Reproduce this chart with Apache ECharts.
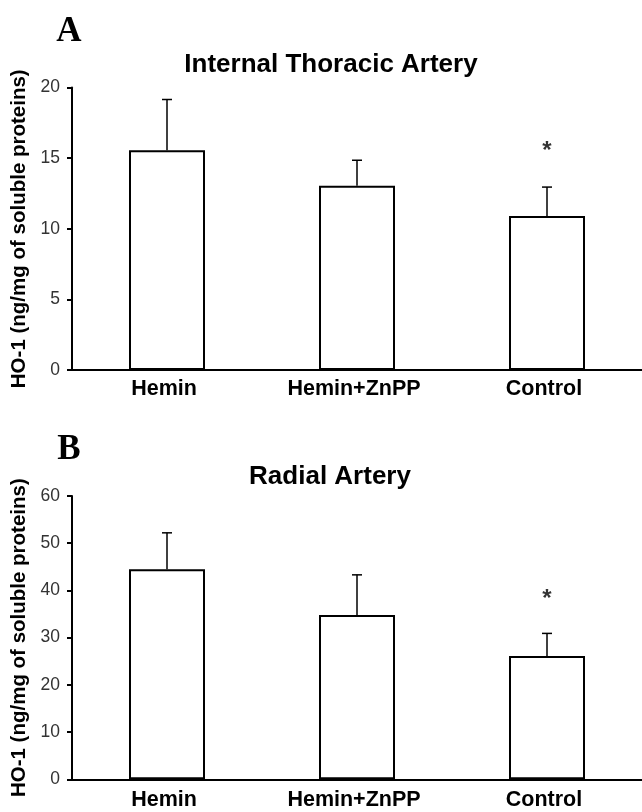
<!DOCTYPE html>
<html>
<head>
<meta charset="utf-8">
<script src="https://cdn.jsdelivr.net/npm/echarts@6/dist/echarts.min.js"></script>
<style>
html,body{margin:0;padding:0;background:#fff;}
#chart{width:642px;height:812px;}
</style>
</head>
<body>
<div id="chart"></div>
<script>
// ---- data ----
var categories = ['Hemin', 'Hemin+ZnPP', 'Control'];
var meansA = [15.55, 13.05, 10.9];
var sdA = [3.6, 1.8, 2.05];
var starA = [null, null, 15.8];
var meansB = [44.5, 34.8, 26.1];
var sdB = [7.7, 8.5, 4.8];
var starB = [null, null, 39.2];
var titleA = 'Internal Thoracic Artery';
var titleB = 'Radial Artery';
var yName = 'HO-1 (ng/mg of soluble proteins)';

var sans = '"Liberation Sans", Arial, sans-serif';
var serif = '"Liberation Serif", "Times New Roman", serif';

function errData(means, sds) {
  return means.map(function (m, i) { return [i, m, m + sds[i]]; });
}
function starData(arr) {
  var out = [];
  arr.forEach(function (v, i) { if (v != null) out.push([i, v]); });
  return out;
}

function renderErr(params, api) {
  var x = api.value(0);
  var lo = api.coord([x, api.value(1)]);
  var hi = api.coord([x, api.value(2)]);
  var half = 5;
  return {
    type: 'group',
    children: [
      { type: 'line', shape: { x1: lo[0], y1: lo[1], x2: hi[0], y2: hi[1] },
        style: { stroke: '#000', lineWidth: 1.5 } },
      { type: 'line', shape: { x1: hi[0] - half, y1: hi[1], x2: hi[0] + half, y2: hi[1] },
        style: { stroke: '#000', lineWidth: 1.5 } }
    ]
  };
}

function xAxis(gi, margin) {
  return {
    type: 'category', gridIndex: gi, data: categories,
    axisLine: { lineStyle: { color: '#000', width: 2 } },
    axisTick: { show: false },
    axisLabel: { color: '#000', fontFamily: sans, fontWeight: 'bold', fontSize: 21.5,
      margin: margin, padding: [0, 6, 0, 0] }
  };
}
function yAxis(gi, max, interval) {
  return {
    type: 'value', gridIndex: gi, min: 0, max: max, interval: interval,
    name: yName, nameLocation: 'middle', nameGap: 36, nameRotate: 90,
    nameTextStyle: { color: '#000', fontFamily: sans, fontWeight: 'bold', fontSize: 20.5 },
    axisLine: { show: true, lineStyle: { color: '#000', width: 2 } },
    axisTick: { show: true, length: 5, lineStyle: { color: '#000', width: 2 } },
    axisLabel: { color: '#333', fontFamily: sans, fontSize: 17.5, margin: 12 },
    splitLine: { show: false }
  };
}

var barStyle = { color: '#fff', borderColor: '#000', borderWidth: 2 };

var option = {
  animation: false,
  backgroundColor: '#fff',
  title: [
    { text: 'A', left: 64, top: 9, textAlign: 'center',
      textStyle: { fontFamily: serif, fontWeight: 'bold', fontSize: 35, color: '#000' } },
    { text: titleA, left: 326, top: 47, textAlign: 'center',
      textStyle: { fontFamily: sans, fontWeight: 'bold', fontSize: 26, color: '#000' } },
    { text: 'B', left: 64, top: 427, textAlign: 'center',
      textStyle: { fontFamily: serif, fontWeight: 'bold', fontSize: 35, color: '#000' } },
    { text: titleB, left: 325, top: 459, textAlign: 'center',
      textStyle: { fontFamily: sans, fontWeight: 'bold', fontSize: 26, color: '#000' } }
  ],
  grid: [
    { left: 72, right: 0, top: 87.5, height: 282.5 },
    { left: 72, right: 0, top: 496, height: 283.3 }
  ],
  xAxis: [xAxis(0, 8), xAxis(1, 10)],
  yAxis: [yAxis(0, 20, 5), yAxis(1, 60, 10)],
  series: [
    { type: 'bar', xAxisIndex: 0, yAxisIndex: 0, data: meansA, barWidth: 76, itemStyle: barStyle, z: 2 },
    { type: 'custom', xAxisIndex: 0, yAxisIndex: 0, data: errData(meansA, sdA), renderItem: renderErr, z: 3 },
    { type: 'scatter', xAxisIndex: 0, yAxisIndex: 0, data: starData(starA), symbolSize: 0,
      label: { show: true, formatter: '*', position: 'inside', color: '#000', fontFamily: sans, fontWeight: 'bold', fontSize: 24, offset: [0, 5] } },
    { type: 'bar', xAxisIndex: 1, yAxisIndex: 1, data: meansB, barWidth: 76, itemStyle: barStyle, z: 2 },
    { type: 'custom', xAxisIndex: 1, yAxisIndex: 1, data: errData(meansB, sdB), renderItem: renderErr, z: 3 },
    { type: 'scatter', xAxisIndex: 1, yAxisIndex: 1, data: starData(starB), symbolSize: 0,
      label: { show: true, formatter: '*', position: 'inside', color: '#000', fontFamily: sans, fontWeight: 'bold', fontSize: 24, offset: [0, 5] } }
  ]
};

var chart = echarts.init(document.getElementById('chart'), null, { renderer: 'canvas' });
chart.setOption(option);
</script>
</body>
</html>
